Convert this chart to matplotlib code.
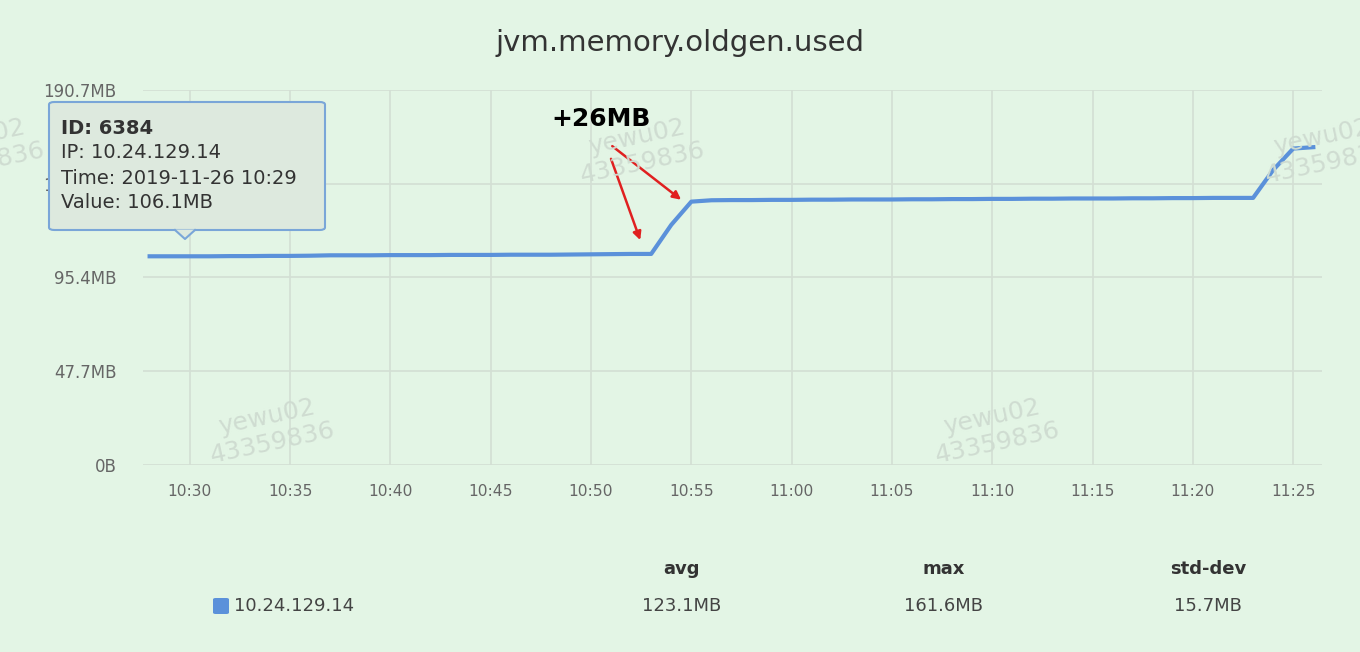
import matplotlib.pyplot as plt
from matplotlib.patches import FancyBboxPatch, Polygon
from matplotlib.lines import Line2D

# minutes after 10:00, one sample a minute
minutes = list(range(28, 87))
used_mb = [106.1, 106.1, 106.1, 106.1, 106.2, 106.2, 106.3, 106.3, 106.4, 106.6,
           106.6, 106.6, 106.7, 106.7, 106.7, 106.8, 106.8, 106.8, 106.9, 106.9,
           106.9, 107.0, 107.1, 107.2, 107.3, 107.3,
           122.1,
           133.9, 134.6, 134.7, 134.7, 134.8, 134.8, 134.9, 134.9, 135.0, 135.0,
           135.0, 135.1, 135.1, 135.2, 135.2, 135.3, 135.3, 135.4, 135.4, 135.5,
           135.5, 135.5, 135.6, 135.6, 135.7, 135.7, 135.8, 135.8, 135.8,
           150.0, 160.9, 161.6]

xticks = [30, 35, 40, 45, 50, 55, 60, 65, 70, 75, 80, 85]
xlabels = ['10:30', '10:35', '10:40', '10:45', '10:50', '10:55',
           '11:00', '11:05', '11:10', '11:15', '11:20', '11:25']
yticks = [0, 47.7, 95.4, 143.1, 190.7]
ylabels = ['0B', '47.7MB', '95.4MB', '143.1MB', '190.7MB']

host = '10.24.129.14'
stat_names = ['avg', 'max', 'std-dev']
stat_vals = ['123.1MB', '161.6MB', '15.7MB']

bg = '#e3f5e5'
blue = '#5b91da'
W, H = 1360, 652

fig = plt.figure(figsize=(13.6, 6.52), dpi=100, facecolor=bg)
ax = fig.add_axes([0.105, 0.287, 0.867, 0.575], facecolor=bg)

ax.plot(minutes, used_mb, color=blue, lw=3, solid_joinstyle='round')

ax.set_xlim(27.66, 86.43)
ax.set_ylim(0, 190.7)
ax.set_xticks(xticks)
ax.set_xticklabels(xlabels)
ax.set_yticks(yticks)
ax.set_yticklabels(ylabels)
ax.tick_params(length=0, colors='#666666')
ax.tick_params(axis='x', pad=14, labelsize=11.2)
ax.tick_params(axis='y', pad=19, labelsize=12)
ax.grid(True, color='#d3dfd4', lw=1.2)
for sp in ax.spines.values():
    sp.set_visible(False)

fig.text(0.5, 0.934, 'jvm.memory.oldgen.used', ha='center', va='center',
         fontsize=21, color='#333333')

# annotation
ax.text(48.0, 176, '+26MB', fontsize=18, fontweight='bold', color='black',
        ha='left', va='center')
ax.annotate('', xy=(54.6, 134), xytext=(50.95, 163),
            arrowprops=dict(arrowstyle='-|>', color='#e02020', lw=1.8, mutation_scale=12))
ax.annotate('', xy=(52.5, 113), xytext=(50.95, 157),
            arrowprops=dict(arrowstyle='-|>', color='#e02020', lw=1.8, mutation_scale=12))

# watermarks
for wx, wy in [(640, 150), (270, 430), (995, 430), (1325, 150), (-20, 150)]:
    fig.text(wx / W, 1 - wy / H, 'yewu02\n43359836', fontsize=18,
             color='#cfdcd1', rotation=12, ha='center', va='center',
             linespacing=1.1)

# tooltip
box = FancyBboxPatch((49 / W, 1 - 230 / H), 276 / W, 128 / H,
                     boxstyle='round,pad=0,rounding_size=0.004',
                     transform=fig.transFigure, facecolor='#dde9de',
                     edgecolor='#7aa6d8', lw=1.5, zorder=5)
fig.patches.append(box)
tri = Polygon([(175 / W, 1 - 229.5 / H), (195 / W, 1 - 229.5 / H), (185 / W, 1 - 239 / H)],
              closed=True, transform=fig.transFigure, facecolor='#dde9de',
              edgecolor='none', zorder=6)
fig.patches.append(tri)
fig.lines.append(Line2D([175 / W, 185 / W, 195 / W], [1 - 230 / H, 1 - 239 / H, 1 - 230 / H],
                        transform=fig.transFigure, color='#7aa6d8', lw=1.5, zorder=7))
fig.text(61 / W, 1 - 128 / H, 'ID: 6384', fontsize=14, fontweight='bold',
         color='#333333', va='center', zorder=8)
tip_lines = ['IP: 10.24.129.14', 'Time: 2019-11-26 10:29', 'Value: 106.1MB']
for k, line in enumerate(tip_lines):
    fig.text(61 / W, 1 - (153 + 25 * k) / H, line, fontsize=14,
             color='#333333', va='center', zorder=8)

# legend table
fig.patches.append(FancyBboxPatch((213 / W, 1 - 614 / H), 16 / W, 16 / H,
                                  boxstyle='round,pad=0,rounding_size=0.002',
                                  transform=fig.transFigure, facecolor=blue,
                                  edgecolor='none'))
fig.text(234 / W, 1 - 606 / H, host, fontsize=13, color='#444444', va='center')
for cx, name, val in zip([682, 944, 1208], stat_names, stat_vals):
    fig.text(cx / W, 1 - 569 / H, name, fontsize=13, fontweight='bold',
             color='#333333', ha='center', va='center')
    fig.text(cx / W, 1 - 606 / H, val, fontsize=13, color='#444444',
             ha='center', va='center')

fig.savefig('out.png', dpi=100, facecolor=bg)
